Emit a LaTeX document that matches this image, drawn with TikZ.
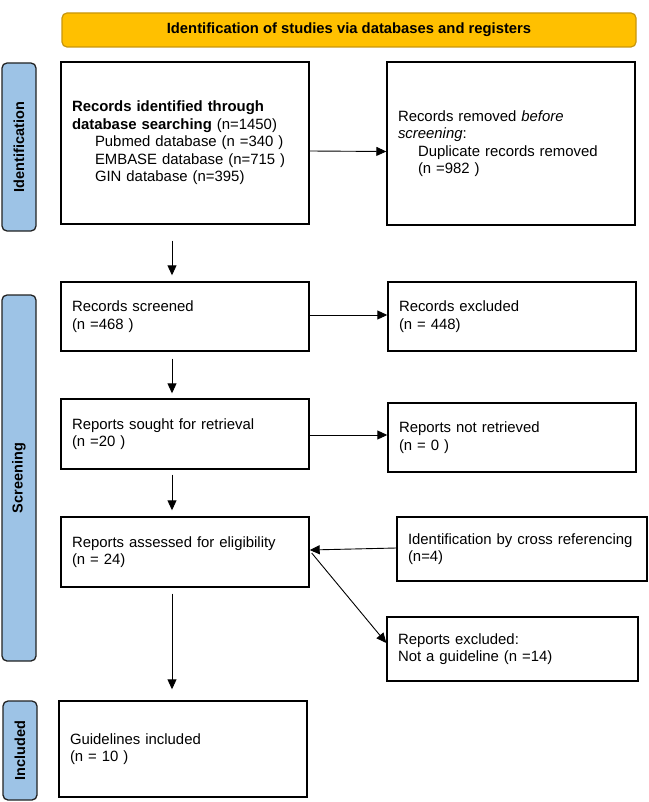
\documentclass[tikz,border=0pt]{standalone}
\usepackage{fontspec}
\setmainfont{Liberation Sans}
\usetikzlibrary{arrows.meta}
\definecolor{bannerfill}{HTML}{FFC000}
\definecolor{bannerdraw}{HTML}{C8960C}
\definecolor{barfill}{HTML}{9DC3E6}
\definecolor{bardraw}{HTML}{222222}
\begin{document}
\begin{tikzpicture}[x=1pt,y=-1pt,
  box/.style={draw=black, line width=1.4pt, rectangle, inner xsep=11pt, inner ysep=0pt,
    align=left, font=\fontsize{14.9pt}{17.5pt}\selectfont, anchor=center},
  bar/.style={draw=bardraw, fill=barfill, rounded corners=5pt, line width=1.3pt,
    rotate=90, inner sep=0pt, font=\fontsize{14.5pt}{17pt}\selectfont\bfseries},
  banner/.style={draw=bannerdraw, fill=bannerfill, rounded corners=5pt, line width=1.2pt,
    inner sep=0pt, font=\fontsize{14.8pt}{17pt}\selectfont\bfseries},
  arr/.style={-{Triangle[length=10pt,width=9pt]}, line width=0.9pt, draw=black}
]
\useasboundingbox (0,0) rectangle (648,802);

% banner and phase bars
\node[banner, minimum width=574pt, minimum height=34pt] (ban) at (349,30)
  {Identification of studies via databases and registers};
\node[bar, minimum width=168pt, minimum height=34pt] (idbar) at (19,147) {Identification};
\node[bar, minimum width=366pt, minimum height=34pt] (scbar) at (19,478) {Screening};
\node[bar, minimum width=99pt, minimum height=34pt] (incbar) at (20,750.5) {Included};

% boxes
\node[box, text width=226pt, minimum height=162pt] (b1) at (185,143)
  {\textbf{Records identified through}\\
   \textbf{database searching} (n=1450)\\
   \hspace*{23pt}Pubmed database (n =340 )\\
   \hspace*{23pt}EMBASE database (n=715 )\\
   \hspace*{23pt}GIN database (n=395)};
\node[box, text width=226pt, minimum height=163pt] (b2) at (511,143.5)
  {Records removed \textit{before}\\
   \textit{screening}:\\
   \hspace*{20pt}Duplicate records removed\\
   \hspace*{20pt}(n =982 )};
\node[box, text width=226pt, minimum height=69pt] (b3) at (185,316.5)
  {Records screened\\(n =468 )};
\node[box, text width=226pt, minimum height=69pt] (b4) at (512,316.5)
  {Records excluded\\(n = 448)};
\node[box, text width=226pt, minimum height=70pt] (b5) at (185,434)
  {Reports sought for retrieval\\(n =20 )};
\node[box, text width=226pt, minimum height=69pt] (b6) at (512,437.5)
  {Reports not retrieved\\(n = 0 )};
\node[box, text width=226pt, minimum height=70pt] (b7) at (185,552)
  {Reports assessed for eligibility\\(n = 24)};
\node[box, text width=228pt, minimum height=64pt] (b8) at (522,549)
  {Identification by cross referencing\\(n=4)};
\node[box, text width=229pt, minimum height=64pt] (b10) at (512.5,649)
  {Reports excluded:\\Not a guideline (n =14)};
\node[box, text width=226pt, minimum height=96pt] (b9) at (183,749)
  {Guidelines included\\(n = 10 )\\[3pt]};

% connectors
\draw[arr] ([yshift=-8pt]b1.east) -- ([yshift=-8pt]b2.west);
\draw[arr] ([xshift=-13pt,yshift=-16pt]b1.south) -- ([xshift=-13pt,yshift=6pt]b3.north);
\draw[arr] ([yshift=1.5pt]b3.east) -- ([yshift=1.5pt]b4.west);
\draw[arr] ([xshift=-13pt,yshift=-7pt]b3.south) -- ([xshift=-13pt,yshift=5pt]b5.north);
\draw[arr] ([yshift=-1pt]b5.east) -- ([yshift=2.5pt]b6.west);
\draw[arr] ([xshift=-13pt,yshift=-5pt]b5.south) -- ([xshift=-13pt,yshift=6pt]b7.north);
\draw[arr] ([xshift=-13pt,yshift=-6pt]b7.south) -- ([xshift=-11pt,yshift=11pt]b9.north);
\draw[arr] ([yshift=1pt]b8.west) -- ([yshift=2pt]b7.east);
\draw[arr] ([xshift=2pt,yshift=-1pt]b7.east) -- ([yshift=6pt]b10.west);
\end{tikzpicture}
\end{document}
